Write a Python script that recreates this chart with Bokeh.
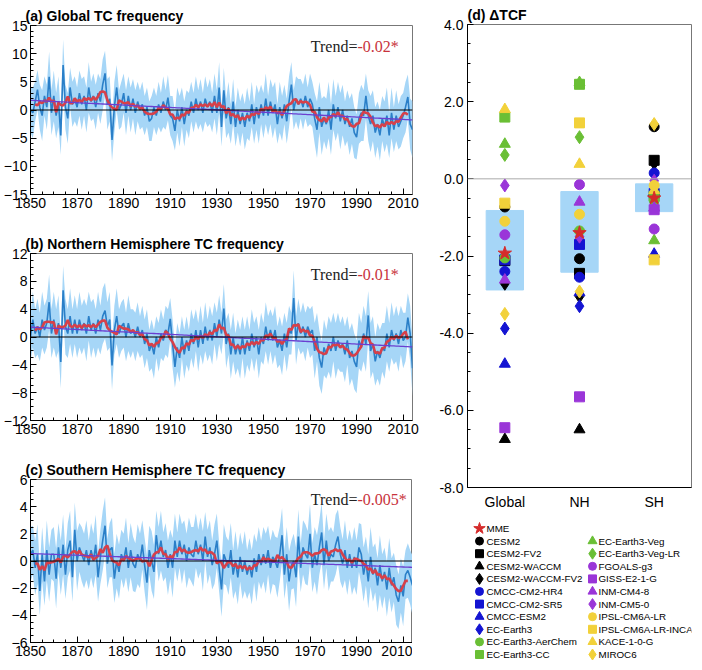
import numpy as np
from bokeh.plotting import figure
from bokeh.layouts import row, column
from bokeh.models import FixedTicker, Range1d, FactorRange, NumeralTickFormatter, Span, Label
from bokeh.embed import file_html
from bokeh.resources import INLINE
from bokeh.core.properties import value

years = list(range(1850, 2015))

glob_mean = [
    0.0, -0.5, 1.5, 3.6, 0.5, -1.0, 2.5, 0.5, 5.9, -0.5,
    2.5, -1.0, 1.5, -4.5, 8.0, 0.5, -1.5, 4.0, 1.0, 2.0,
    0.5, 3.0, 1.0, 2.5, 0.0, 4.0, 1.5, 2.5, 0.5, 3.0,
    1.5, 4.5, 6.5, 1.0, 2.0, -5.3, 0.5, 4.0, 0.0, 1.0,
    3.0, -0.5, 2.5, 0.0, 2.0, -0.5, 1.5, 0.0, 1.0, -1.0,
    0.5, -2.0, -1.5, 0.5, -1.0, 1.0, -0.5, 1.5, 0.0, 2.2,
    -1.0, -1.5, -3.7, 0.0, -2.0, 0.5, -2.5, 0.0, -1.0, 1.5,
    -0.5, 2.0, 0.0, 1.5, -0.5, 2.0, 0.5, 1.5, -0.5, 2.5,
    -0.5, 4.0, -3.0, 3.5, -1.5, 0.5, -2.5, 1.5, -3.0, 0.0,
    -2.5, -0.5, -3.0, -0.5, -2.0, 1.0, -2.5, 0.5, -1.5, 1.0,
    -1.0, 2.0, -1.0, 1.5, -0.5, 1.0, -2.5, 0.5, -1.5, 1.0,
    -2.0, 1.5, 4.5, 0.0, 2.0, 1.0, 2.0, 0.5, 2.5, 0.5,
    2.0, 1.0, -1.5, -3.5, 0.5, -3.0, -1.5, -2.5, 0.0, -3.5,
    1.0, -1.5, 0.5, -2.0, 0.0, -2.5, -1.0, -3.0, -1.5, -4.0,
    -4.8, -1.5, -0.5, -1.0, 2.5, -1.0, -2.5, -1.0, -4.0, -2.5,
    -4.5, -1.5, -3.0, -1.0, -4.5, -0.5, -3.5, -1.0, -3.0, -2.0,
    -1.0, 0.5, 2.3, -2.5, -3.5]
glob_sd = [
    4.0, 4.5, 3.5, 3.5, 4.0, 4.5, 3.5, 4.0, 4.5, 4.0,
    4.5, 4.0, 4.5, 3.5, 4.5, 4.0, 4.5, 3.5, 4.0, 4.0,
    3.5, 4.0, 4.5, 3.5, 4.0, 4.5, 3.5, 4.0, 4.0, 3.5,
    4.0, 4.5, 4.0, 4.5, 4.0, 3.8, 4.5, 4.0, 3.5, 4.0,
    3.5, 4.0, 3.5, 4.0, 3.5, 4.0, 3.5, 3.5, 4.0, 3.5,
    3.5, 3.5, 4.0, 3.5, 3.5, 4.0, 3.5, 4.5, 3.5, 4.0,
    3.5, 4.0, 3.5, 4.0, 4.5, 3.5, 4.0, 3.5, 4.0, 3.5,
    3.5, 4.0, 3.5, 4.0, 3.5, 4.0, 3.5, 4.0, 3.5, 4.0,
    4.0, 4.5, 3.5, 4.0, 3.5, 4.5, 3.5, 4.0, 3.5, 4.0,
    4.0, 3.5, 4.0, 4.5, 3.5, 4.0, 3.5, 4.0, 4.5, 3.5,
    4.0, 4.5, 3.5, 4.0, 4.5, 4.0, 3.5, 4.5, 4.0, 3.5,
    4.0, 4.5, 4.0, 3.5, 4.0, 4.5, 3.5, 4.0, 4.0, 3.5,
    4.5, 4.0, 4.5, 5.0, 4.5, 5.0, 4.0, 4.5, 5.0, 4.5,
    4.5, 4.0, 4.5, 5.0, 4.5, 4.0, 4.5, 5.0, 4.5, 4.5,
    4.0, 4.5, 5.0, 4.5, 4.0, 4.5, 5.0, 4.5, 4.5, 4.0,
    4.5, 4.0, 4.5, 5.0, 4.0, 4.5, 4.0, 4.5, 4.0, 4.5,
    4.0, 4.5, 4.0, 4.5, 5.0]

nh_mean = [
    0.0, 2.5, 0.5, 1.5, 0.0, 2.5, 1.0, 2.0, 5.0, 0.5,
    2.5, 0.5, 2.0, -3.6, 6.7, 1.5, 0.5, 3.0, 0.5, 2.5,
    0.5, 2.5, 1.0, 2.0, 0.5, 3.0, 1.0, 2.0, 0.5, 2.5,
    1.0, 3.0, 3.8, 1.5, 2.5, -4.1, 1.0, 3.0, 0.5, 1.5,
    2.0, 0.0, 2.0, 0.5, 1.0, 0.0, 1.5, 0.0, 1.0, -1.0,
    0.5, -2.0, -1.0, -2.5, 0.0, -1.5, 0.5, -0.5, 1.0, 0.5,
    2.6, -1.0, -4.3, -1.5, -3.0, 0.0, -2.5, -0.5, -2.0, 0.5,
    -1.0, 1.0, -1.5, 1.0, -1.0, 1.5, -0.5, 1.0, -0.5, 2.0,
    0.0, 2.5, 0.5, 4.1, -1.0, 0.5, -2.5, 0.0, -2.5, -1.0,
    -2.5, 0.0, -2.5, -0.5, -2.0, 0.5, -1.5, 0.0, -2.5, 0.0,
    -1.0, 1.5, -0.5, 1.0, -0.5, 1.0, -1.5, -0.5, -2.0, 0.5,
    -1.5, 1.0, 0.5, 5.6, -0.5, 2.0, 0.5, 1.5, 0.0, 1.5,
    0.5, 1.0, -2.0, 0.0, -3.0, -4.4, -1.5, -2.5, -1.0, -2.0,
    0.0, -2.0, -0.5, -1.5, -1.0, -2.5, -0.5, -3.0, -2.0, -3.5,
    -4.3, -0.5, -1.5, 0.5, -1.0, 3.1, -2.0, -1.0, -3.5, -2.0,
    -3.0, -1.5, -2.0, 0.5, -1.5, 1.0, -0.5, 0.5, -1.0, 1.0,
    -0.5, 0.0, 2.8, 0.5, -4.5]
nh_sd = [
    3.5, 4.0, 3.5, 4.0, 3.5, 4.0, 3.5, 3.5, 4.0, 3.5,
    4.0, 3.5, 4.0, 3.8, 3.5, 4.0, 3.5, 4.0, 3.5, 3.5,
    3.5, 4.0, 3.5, 3.5, 4.0, 3.5, 4.0, 3.5, 3.5, 4.0,
    3.5, 4.0, 4.0, 3.5, 4.0, 3.5, 3.5, 4.0, 3.5, 3.5,
    3.5, 3.5, 4.0, 3.5, 3.0, 3.5, 3.5, 3.0, 3.5, 3.5,
    3.5, 3.0, 3.5, 3.5, 3.0, 3.5, 3.5, 3.0, 3.5, 3.5,
    3.0, 3.5, 3.0, 3.5, 3.5, 3.0, 3.5, 3.5, 3.0, 3.5,
    3.5, 3.0, 3.5, 3.5, 3.0, 3.5, 3.0, 3.5, 3.5, 3.0,
    3.5, 3.5, 3.0, 3.5, 3.5, 3.0, 3.5, 3.5, 3.0, 3.5,
    3.5, 3.0, 3.5, 3.5, 3.0, 3.5, 3.5, 3.0, 3.5, 3.5,
    3.0, 3.5, 3.5, 3.0, 3.5, 3.5, 3.0, 3.5, 3.5, 3.0,
    3.5, 3.5, 3.0, 4.0, 3.5, 3.5, 3.0, 3.5, 3.5, 3.0,
    3.5, 3.5, 4.0, 3.5, 4.0, 3.8, 4.0, 3.5, 4.0, 4.0,
    3.5, 4.0, 4.0, 3.5, 4.0, 4.0, 3.5, 4.0, 4.0, 4.0,
    3.8, 4.0, 3.5, 4.0, 4.0, 3.5, 4.0, 4.0, 3.5, 4.0,
    4.0, 3.5, 4.0, 4.0, 3.5, 4.0, 3.5, 4.0, 4.0, 3.5,
    4.0, 3.5, 3.5, 4.0, 4.0]

sh_mean = [
    0.5, 0.8, -0.5, 0.5, -2.2, 0.5, -1.5, 0.8, -1.0, 0.5,
    0.5, -1.3, 1.0, -0.5, 1.2, -1.0, 0.8, 1.5, -1.2, 2.3,
    0.0, 1.0, 0.5, 0.0, 0.8, -0.3, 0.8, 0.0, 1.2, -1.2,
    0.3, 1.5, 2.6, -0.2, 0.8, 1.0, -1.3, 0.0, -0.8, 0.5,
    0.0, 1.0, -0.5, 0.8, -0.2, -0.5, 0.5, 0.0, 1.2, -0.3,
    -1.6, 0.8, 0.0, -0.8, 1.9, 0.5, 1.5, 0.3, 0.8, -0.5,
    0.5, -0.5, 1.5, 0.3, 1.5, 0.5, 1.2, 0.0, 1.0, 0.5,
    0.3, 1.5, 0.5, 1.2, 0.0, 1.8, 0.3, 1.0, -0.3, 0.5,
    1.5, -0.5, -2.1, 0.5, 0.0, -0.5, 0.8, -1.0, 0.0, -1.2,
    0.3, -0.8, 0.0, -1.0, -0.3, -1.2, 0.2, -0.8, 0.5, -0.3,
    0.5, -0.2, 0.8, -0.5, 0.3, 0.0, -0.5, 0.5, 1.9, -1.0,
    0.5, -1.5, -0.3, 0.0, -1.2, 1.8, -0.5, 1.0, 0.5, 0.2,
    2.0, -0.5, 0.5, -0.3, 1.0, 2.1, -0.3, 1.5, 0.0, 0.5,
    0.3, 1.2, 1.8, 0.5, -0.2, 0.8, -0.5, 0.5, -0.5, 0.3,
    -0.5, 1.0, 0.5, -1.0, 0.0, -1.5, 0.3, -1.0, -0.5, -1.8,
    -0.3, -1.5, -0.8, -2.1, -0.5, -1.8, -1.2, -2.5, -3.0, -1.8,
    -2.6, -1.0, -0.7, -1.2, -1.8]
sh_sd = [
    2.0, 1.8, 2.0, 2.2, 1.8, 2.0, 1.8, 2.2, 2.0, 1.8,
    2.0, 2.2, 1.8, 2.0, 2.2, 1.8, 2.0, 2.2, 1.8, 2.0,
    2.2, 1.8, 2.0, 2.0, 2.2, 1.8, 2.0, 2.0, 2.2, 1.8,
    2.0, 2.2, 2.1, 1.8, 2.0, 2.2, 1.8, 2.0, 2.0, 1.8,
    2.0, 2.2, 1.8, 2.0, 2.0, 1.8, 2.2, 2.0, 1.8, 2.0,
    2.0, 1.8, 2.2, 2.0, 1.8, 2.0, 2.2, 1.8, 2.0, 2.0,
    1.8, 2.2, 2.0, 1.8, 2.0, 2.2, 1.8, 2.0, 2.2, 2.0,
    2.2, 2.0, 1.8, 2.0, 2.2, 1.8, 2.0, 2.0, 1.8, 2.2,
    2.0, 1.8, 2.0, 2.2, 1.8, 2.0, 2.0, 1.8, 2.2, 2.0,
    1.8, 2.0, 2.2, 1.8, 2.0, 2.0, 1.8, 2.2, 2.0, 1.8,
    2.0, 2.2, 1.8, 2.0, 2.0, 1.8, 2.2, 2.0, 2.0, 1.8,
    2.0, 2.2, 1.8, 2.0, 2.2, 2.0, 1.8, 2.0, 2.2, 2.0,
    2.2, 1.8, 2.0, 2.2, 2.0, 2.2, 1.8, 2.0, 2.2, 2.0,
    1.8, 2.2, 2.0, 2.0, 1.8, 2.2, 2.0, 1.8, 2.0, 2.2,
    2.0, 1.8, 2.2, 2.0, 1.8, 2.0, 2.2, 2.0, 1.8, 2.0,
    2.2, 2.0, 1.8, 2.0, 2.2, 2.0, 1.8, 2.2, 2.0, 2.0,
    2.2, 1.8, 2.0, 2.0, 2.2]

panel_titles = ["(a) Global TC frequency",
                "(b) Northern Hemisphere TC frequency",
                "(c) Southern Hemisphere TC frequency"]
trend_values = ["-0.02*", "-0.01*", "-0.005*"]
x_major = [1850, 1870, 1890, 1910, 1930, 1950, 1970, 1990, 2010]
x_minor = list(range(1850, 2016, 5))
y_limits = [(-15, 15), (-12, 12), (-6, 6)]
y_major = [[-15, -10, -5, 0, 5, 10, 15], [-12, -8, -4, 0, 4, 8, 12], [-6, -4, -2, 0, 2, 4, 6]]
y_minor_step = [1, 1, 0.5]

regions = ["Global", "NH", "SH"]
models = ["CESM2", "CESM2-FV2", "CESM2-WACCM", "CESM2-WACCM-FV2",
          "CMCC-CM2-HR4", "CMCC-CM2-SR5", "CMCC-ESM2", "EC-Earth3",
          "EC-Earth3-AerChem", "EC-Earth3-CC", "EC-Earth3-Veg", "EC-Earth3-Veg-LR",
          "FGOALS-g3", "GISS-E2-1-G", "INM-CM4-8", "INM-CM5-0",
          "IPSL-CM6A-LR", "IPSL-CM6A-LR-INCA", "KACE-1-0-G", "MIROC6"]
d_global = [-0.73, -2.12, -6.75, -2.72, -2.40, -2.10, -4.80, -3.88, -2.05, 1.60,
            0.90, 0.62, -1.45, -6.45, -2.62, -0.17, -1.10, -0.63, 1.80, -3.50]
d_nh = [-2.07, -2.45, -6.50, -3.05, -2.55, -1.70, -2.95, -3.30, -1.35, 2.45,
        2.50, 1.08, -0.15, -5.65, -0.60, -1.50, -0.92, 1.45, 0.38, -2.92]
d_sh = [1.35, 0.48, -0.35, 0.40, 0.15, -0.38, -1.95, -0.60, -0.55, -0.45,
        -1.60, -0.70, -1.30, -0.80, -0.75, -0.05, -0.17, -2.10, -0.30, 1.42]
mme = [-1.93, -1.40, -0.50]
bar_top = [-0.82, -0.33, -0.13]
bar_bottom = [-2.88, -2.42, -0.85]

group_colors = ["#000000", "#1414d2", "#6abf35", "#9a35d8", "#f2d13a"]
marker_cycle = ["circle", "square", "triangle", "diamond"]
marker_size = {"circle": 10, "square": 10, "triangle": 11, "diamond": 13, "star": 14}

FONT = "Liberation Sans"
BAND = "#a6d6f7"


def style_axes(p):
    for ax in (p.xaxis[0], p.yaxis[0]):
        ax.major_tick_in = 6
        ax.major_tick_out = 0
        ax.minor_tick_in = 3
        ax.minor_tick_out = 0
        ax.axis_line_color = "black"
        ax.major_tick_line_color = "black"
        ax.minor_tick_line_color = "black"
        ax.major_label_text_font = FONT
        ax.major_label_text_font_size = "14px"
        ax.major_label_text_color = "black"
    p.xgrid.visible = False
    p.ygrid.visible = False
    p.outline_line_color = "#777777"
    p.title.text_font = FONT
    p.title.text_font_size = "14px"
    p.title.text_font_style = "bold"
    p.title.text_color = "black"
    p.title.align = "left"
    p.title.standoff = 3


frame_h = [169, 167, 163]
tops = [25, 26, 27]
bottoms = [33, 32, 20]
series = [(glob_mean, glob_sd), (nh_mean, nh_sd), (sh_mean, sh_sd)]
left_panels = []
for i in range(3):
    mean = np.array(series[i][0])
    sd = np.array(series[i][1])
    y0, y1 = y_limits[i]
    p = figure(frame_width=382, frame_height=frame_h[i], x_range=Range1d(1850, 2014),
               y_range=Range1d(y0, y1), output_backend="svg", toolbar_location=None,
               min_border_left=23, min_border_right=7, min_border_top=tops[i],
               min_border_bottom=bottoms[i], title=panel_titles[i])
    style_axes(p)
    p.title.offset = -5
    p.xaxis[0].ticker = FixedTicker(ticks=x_major, minor_ticks=x_minor)
    step = y_minor_step[i]
    p.yaxis[0].ticker = FixedTicker(ticks=y_major[i],
                                    minor_ticks=list(np.arange(y0, y1 + step / 2, step)))
    p.yaxis[0].major_label_standoff = 3
    p.xaxis[0].major_label_standoff = 3
    p.varea(x=years, y1=mean - sd, y2=mean + sd, color=BAND)
    p.line(years, mean, color="#2a7fc8", line_width=1.6)
    rm = np.convolve(mean, np.ones(5) / 5, mode="valid")
    p.line(years[2:-2], rm, color="#d6404a", line_width=2.6)
    coef = np.polyfit(years, mean, 1)
    p.line(years, np.polyval(coef, years), color="#6b3fd0", line_width=1.3)
    p.add_layout(Span(location=0, dimension="width", line_color="black", line_width=1.2))
    xv = 1850 + 0.856 * (2014 - 1850)
    yv = y1 - 0.125 * (y1 - y0)
    p.add_layout(Label(x=xv, y=yv, text="Trend=", text_align="right",
                       text_baseline="alphabetic", text_font="Liberation Serif",
                       text_font_size="16px", text_color="#222222"))
    p.add_layout(Label(x=xv, y=yv, text=trend_values[i], text_align="left",
                       text_baseline="alphabetic", text_font="Liberation Serif",
                       text_font_size="16px", text_color="#c8323c"))
    left_panels.append(p)

# Panel d
pd = figure(frame_width=224, frame_height=463, x_range=FactorRange(factors=regions),
            y_range=Range1d(-8, 4), output_backend="svg", toolbar_location=None,
            min_border_left=48, min_border_right=2, min_border_top=24,
            min_border_bottom=25, title="(d) \u0394TCF")
style_axes(pd)
pd.yaxis[0].ticker = FixedTicker(ticks=[-8, -6, -4, -2, 0, 2, 4],
                                 minor_ticks=list(np.arange(-8, 4.25, 0.5)))
pd.yaxis[0].formatter = NumeralTickFormatter(format="0.0")
pd.yaxis[0].major_label_standoff = 4
pd.xaxis[0].major_tick_line_color = None
pd.xaxis[0].minor_tick_line_color = None
pd.xaxis[0].major_label_standoff = 6
pd.vbar(x=regions, top=bar_top, bottom=bar_bottom, width=0.5, color=BAND)
pd.add_layout(Span(location=0, dimension="width", line_color="#aaaaaa", line_width=1))
for k, name in enumerate(models):
    mk = marker_cycle[k % 4]
    col = group_colors[k // 4]
    pd.scatter(x=regions, y=[d_global[k], d_nh[k], d_sh[k]], marker=mk,
               size=marker_size[mk], color=col)
pd.scatter(x=regions, y=mme, marker="star", size=marker_size["star"], color="#d52b2b")

# Legend panel (coordinates are pixels from the frame's top-left)
LW, LH = 224, 148
pl = figure(frame_width=LW, frame_height=LH, x_range=Range1d(0, LW), y_range=Range1d(LH, 0),
            output_backend="svg", toolbar_location=None, min_border_left=48,
            min_border_right=2, min_border_top=0, min_border_bottom=0)
pl.axis.visible = False
pl.xgrid.visible = False
pl.ygrid.visible = False
pl.outline_line_color = None
row0, dy = 16, 12.6
names = ["MME"] + models
mk_list = ["star"] + [marker_cycle[k % 4] for k in range(len(models))]
col_list = ["#d52b2b"] + [group_colors[k // 4] for k in range(len(models))]
mx, my, tx = [], [], []
for j in range(len(names)):
    if j <= 10:
        mx.append(12); tx.append(19); my.append(row0 + j * dy)
    else:
        mx.append(125); tx.append(131); my.append(row0 + (j - 10) * dy)
for j in range(len(names)):
    s = marker_size[mk_list[j]] - 2
    pl.scatter(x=[mx[j]], y=[my[j]], marker=mk_list[j], size=s, color=col_list[j])
pl.text(x=tx, y=my, text=names, text_font=value(FONT), text_font_size="9.8px",
        text_baseline="middle", text_align="left", text_color="black")

layout = row(column(*left_panels), column(pd, pl))
open("out.html", "w").write(file_html(layout, INLINE))
